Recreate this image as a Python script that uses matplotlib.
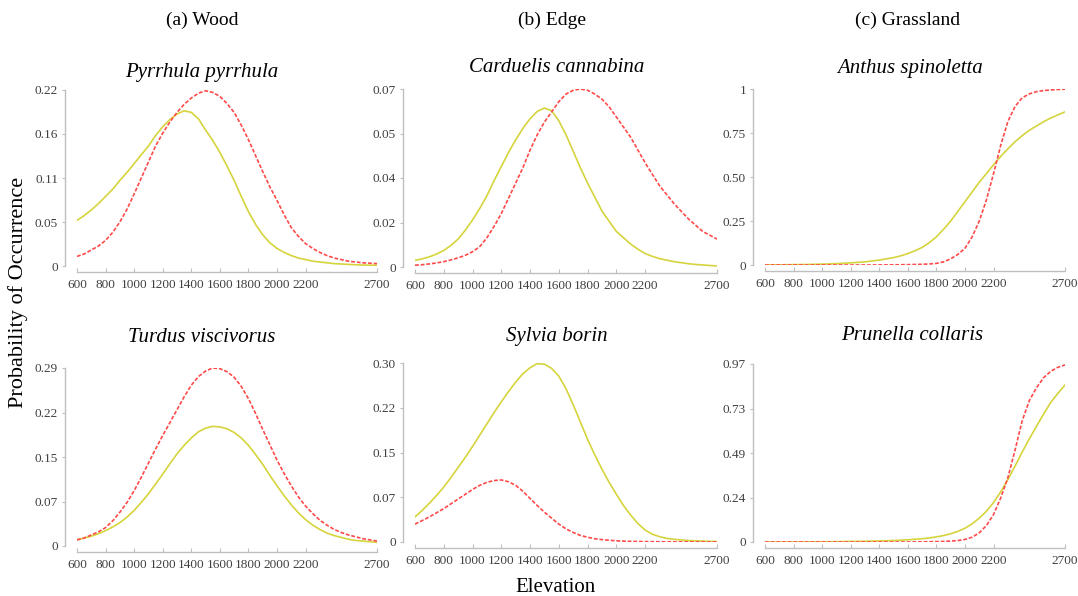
import numpy as np
import matplotlib.pyplot as plt

plt.rcParams['font.family'] = ['Liberation Serif', 'DejaVu Serif']

# elevation grid the curves were read at (m), every 50 m
elev = list(range(600, 2701, 50))

# (a) Wood
pyrrhula_yel = [.057, .063, .070, .078, .087, .096, .107, .117, .128,
                .139, .150, .163, .174, .183, .190, .194, .192, .184, .170,
                .157, .142, .125, .107, .087, .068, .052, .039, .029, .022,
                .017, .013, .010, .008, .006, .005, .004, .003, .0025, .002,
                .0015, .0012, .001, .001]
pyrrhula_red = [.012, .015, .020, .025, .032, .042, .055, .071, .090,
                .110, .130, .150, .166, .180, .192, .202, .210, .216, .219,
                .217, .212, .203, .192, .176, .158, .138, .118, .099, .082,
                .064, .048, .037, .028, .022, .017, .013, .010, .008, .006,
                .005, .004, .0035, .003]
turdus_yel = [.010, .013, .016, .020, .025, .031, .038, .047, .058,
              .071, .085, .101, .117, .134, .150, .164, .176, .186, .192,
              .195, .194, .191, .185, .176, .164, .149, .133, .115, .098,
              .082, .067, .054, .043, .034, .027, .021, .017, .014, .011,
              .009, .008, .007, .006]
turdus_red = [.010, .013, .018, .023, .030, .041, .055, .071, .090,
              .112, .135, .158, .180, .201, .222, .243, .262, .276, .285,
              .290, .289, .284, .275, .260, .240, .216, .190, .165, .140,
              .118, .098, .080, .065, .053, .042, .034, .027, .022, .018,
              .015, .012, .010, .008]

# (b) Edge
carduelis_yel = [.0026, .0032, .0040, .0051, .0065, .0085, .011, .0145, .0185,
                 .023, .028, .034, .0395, .045, .050, .0545, .0583, .0612, .0625,
                 .0615, .0575, .052, .0455, .039, .033, .0275, .022, .018, .014,
                 .0115, .009, .007, .0053, .0042, .0033, .0027, .0021, .0017, .0013,
                 .001, .0008, .0006, .0004]
carduelis_red = [.0007, .0009, .0012, .0016, .0021, .0028, .0036, .0046, .006,
                 .008, .0115, .016, .021, .027, .033, .039, .046, .052, .057,
                 .061, .065, .068, .0695, .070, .0695, .068, .066, .063, .059,
                 .055, .051, .046, .041, .0365, .032, .0285, .025, .022, .019,
                 .0165, .014, .0125, .011]
sylvia_yel = [.042, .053, .065, .078, .092, .108, .125, .142, .160,
              .179, .198, .217, .235, .252, .268, .282, .292, .299, .298,
              .291, .278, .257, .230, .201, .172, .146, .122, .100, .080,
              .061, .045, .031, .020, .013, .009, .006, .0045, .0035, .0025,
              .002, .0015, .001, .001]
sylvia_red = [.030, .036, .042, .049, .056, .064, .072, .080, .088,
              .095, .100, .103, .104, .101, .095, .085, .073, .061, .050,
              .040, .030, .022, .016, .011, .008, .0055, .004, .003, .002,
              .0015, .001, .0008, .0006, .0005, .0004, .0003, .0003, .0002, .0002,
              .0002, .0001, .0001, .0001]

# (c) Grassland
anthus_yel = [0, .0005, .001, .0015, .002, .0025, .003, .004, .005,
              .0065, .008, .010, .012, .015, .018, .023, .028, .035, .042,
              .052, .065, .081, .100, .127, .160, .203, .250, .305, .360,
              .415, .470, .520, .570, .617, .660, .700, .735, .765, .790,
              .814, .835, .853, .870]
anthus_red = [0, 0, 0, 0, 0, 0, 0, 0, 0,
              0, 0, 0, 0, 0, 0, 0, .0005, .0007, .001,
              .0015, .002, .003, .004, .006, .009, .018, .035, .060, .095,
              .160, .250, .370, .520, .680, .815, .900, .950, .972, .985,
              .991, .995, .997, .999]
prunella_yel = [0, 0, 0, .0003, .0005, .0007, .001, .001, .0012,
                .0015, .002, .0025, .003, .0035, .004, .005, .006, .007, .008,
                .010, .012, .015, .018, .022, .028, .035, .045, .058, .075,
                .099, .130, .168, .215, .273, .340, .413, .490, .562, .630,
                .697, .760, .810, .855]
prunella_red = [0, 0, 0, 0, 0, 0, 0, 0, 0,
                0, 0, 0, 0, 0, 0, 0, 0, 0, 0,
                0, 0, .0005, .001, .0015, .002, .003, .005, .008, .014,
                .026, .050, .090, .150, .240, .350, .500, .660, .770, .840,
                .895, .930, .952, .965]

columns = ['(a) Wood', '(b) Edge', '(c) Grassland']
species = ['Pyrrhula pyrrhula', 'Carduelis cannabina', 'Anthus spinoletta',
           'Turdus viscivorus', 'Sylvia borin', 'Prunella collaris']
yellow = [pyrrhula_yel, carduelis_yel, anthus_yel, turdus_yel, sylvia_yel, prunella_yel]
red = [pyrrhula_red, carduelis_red, anthus_red, turdus_red, sylvia_red, prunella_red]
ymax = [0.22, 0.07, 1.0, 0.29, 0.30, 0.97]
ylabels = [['0', '0.05', '0.11', '0.16', '0.22'],
           ['0', '0.02', '0.04', '0.05', '0.07'],
           ['0', '0.25', '0.50', '0.75', '1'],
           ['0', '0.07', '0.15', '0.22', '0.29'],
           ['0', '0.07', '0.15', '0.22', '0.30'],
           ['0', '0.24', '0.49', '0.73', '0.97']]
xticks = [600, 800, 1000, 1200, 1400, 1600, 1800, 2000, 2200, 2700]

W, H = 1078, 596
# axes boxes in pixels: left, right, top (ymax), bottom (y=0)
boxes = [(77, 377, 90, 266), (415, 717, 89, 267), (765, 1065, 89, 265),
         (77, 377, 368, 546), (415, 717, 363, 542), (765, 1065, 364, 542)]
title_pos = [(202, 72), (557, 68), (910, 68), (202, 337), (557, 336), (912, 335)]

fig = plt.figure(figsize=(W / 100, H / 100), dpi=100)
grey = '#bfbfbf'
for i in range(6):
    l, r, t, b = boxes[i]
    ax = fig.add_axes([l / W, 1 - b / H, (r - l) / W, (b - t) / H])
    ax.plot(elev, yellow[i], color='#d6d43c', lw=1.2, zorder=2)
    ax.plot(elev, red[i], color='#ff4a4a', lw=1.2, dashes=(2.3, 1.1), zorder=3)
    ax.set_xlim(600, 2700)
    ax.set_ylim(0, ymax[i])
    ax.set_xticks(xticks)
    ax.set_xticklabels([str(v) for v in xticks])
    ax.set_yticks(np.linspace(0, ymax[i], 5))
    ax.set_yticklabels(ylabels[i])
    for s in ['top', 'right']:
        ax.spines[s].set_visible(False)
    # offsets in points (12 px and 6 px)
    ax.spines['left'].set_position(('outward', 8.6))
    ax.spines['bottom'].set_position(('outward', 4.3))
    for s in ['left', 'bottom']:
        ax.spines[s].set_color(grey)
        ax.spines[s].set_linewidth(1.0)
    ax.tick_params(axis='x', direction='in', length=3, color=grey, labelsize=9.5,
                   labelcolor='#404040', pad=5)
    ax.tick_params(axis='y', direction='out', length=2, color=grey, labelsize=9.5,
                   labelcolor='#404040', pad=3)
    ax.patch.set_alpha(0)
    x, y = title_pos[i]
    fig.text(x / W, 1 - y / H, species[i], ha='center', va='center',
             fontsize=15, style='italic')

for name, x in zip(columns, [202, 552, 908]):
    fig.text(x / W, 1 - 20 / H, name, ha='center', va='center', fontsize=14)

fig.text(18 / W, 1 - 292 / H, 'Probability of Occurrence', rotation=90,
         ha='center', va='center', fontsize=16)
fig.text(556 / W, 1 - 587 / H, 'Elevation', ha='center', va='center', fontsize=15)

fig.savefig('out.png', dpi=100)
